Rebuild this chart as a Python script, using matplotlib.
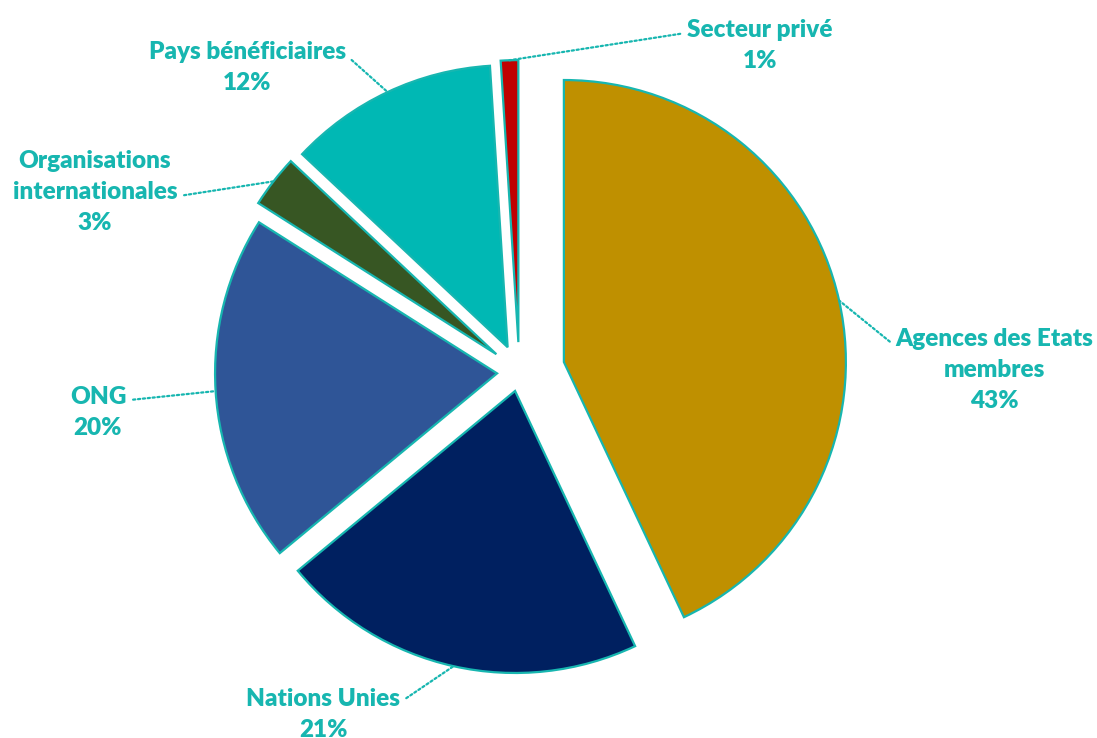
import numpy as np
import matplotlib
matplotlib.use('Agg')
import matplotlib.pyplot as plt

# Data (clockwise from 12 o'clock)
labels = ['Agences des Etats\nmembres', 'Nations Unies', 'ONG',
          'Organisations\ninternationales', 'Pays bénéficiaires',
          'Secteur privé']
shares = [43, 21, 20, 3, 12, 1]
colors = ['#BF9000', '#002060', '#2F5597', '#375623', '#00B8B4', '#C00000']
explode = [0.162, 0.069, 0.079, 0.103, 0.097, 0.106]

# Label placement (data units, radius = 1) and where the leader line leaves the text
label_pos = [(1.686, 0.007), (-0.696, -1.213), (-1.494, -0.142),
             (-1.505, 0.638), (-0.965, 1.078), (0.853, 1.156)]
label_rel = [(0.0, 0.78), (1.0, 0.72), (1.0, 0.72),
             (1.0, 0.45), (1.0, 0.75), (0.0, 0.75)]

teal = '#17B6B0'
plt.rcParams['font.family'] = ['Lato', 'DejaVu Sans']

fig = plt.figure(figsize=(10.97, 7.38), dpi=100)
ax = fig.add_axes([0, 0, 1, 1])

wedges, _ = ax.pie(shares, explode=explode, colors=colors, startangle=90,
                   counterclock=False, radius=1.0,
                   wedgeprops=dict(edgecolor=teal, linewidth=1.6))

for w, lab, val, pos, rel in zip(wedges, labels, shares, label_pos, label_rel):
    # leader line ends on the arc at the middle of the wedge
    mid = np.deg2rad((w.theta1 + w.theta2) / 2)
    cx, cy = w.center
    tip = (cx + w.r * np.cos(mid), cy + w.r * np.sin(mid))
    ax.annotate('{}\n{}%'.format(lab, val), xy=tip, xytext=pos,
                ha='center', va='center', fontsize=17.5, fontweight='heavy',
                color=teal, linespacing=1.5,
                arrowprops=dict(arrowstyle='-', linestyle=(0, (1, 1.2)),
                                color=teal, lw=1.6, relpos=rel,
                                shrinkA=3, shrinkB=0))

ax.set_xlim(-1.8415, 2.0486)
ax.set_ylim(-1.2979, 1.3191)
ax.set_aspect('equal')
ax.axis('off')

fig.savefig('out.png', dpi=100, facecolor='white')
